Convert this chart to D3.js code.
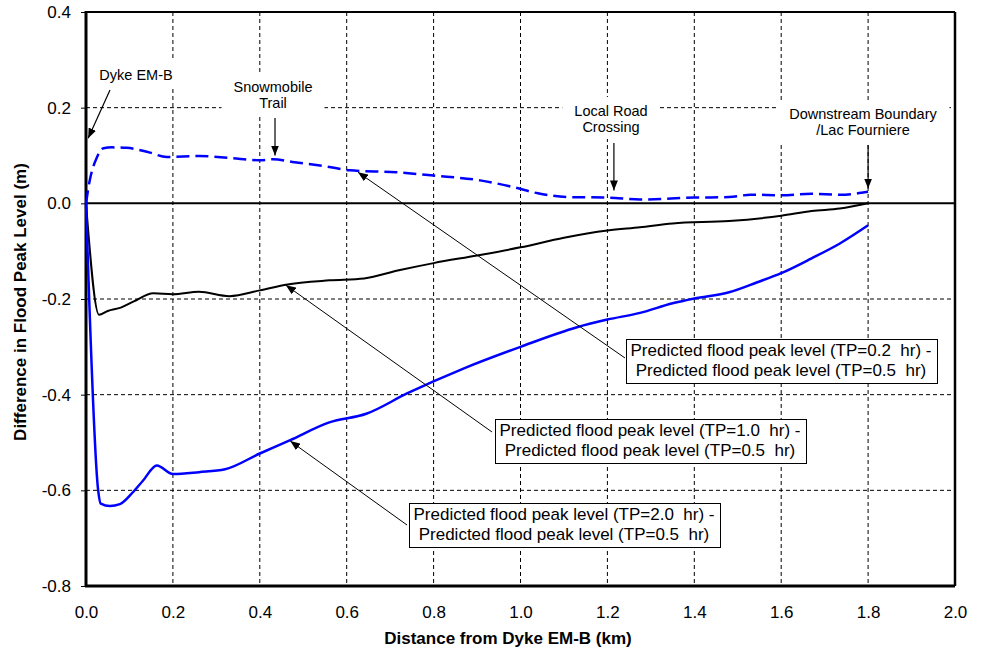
<!DOCTYPE html>
<html>
<head>
<meta charset="utf-8">
<script src="https://cdn.jsdelivr.net/npm/d3@7"></script>
<style>
  body { margin: 0; background: #fff; }
  text { font-family: "Liberation Sans", Arial, sans-serif; }
</style>
</head>
<body>
<svg id="chart"></svg>
<script>
var width = 984;
var height = 650;

// distance from dyke (km) / difference in flood peak level (m)
var tp02X = [0, 0.008, 0.025, 0.04, 0.06, 0.094, 0.14, 0.186, 0.26, 0.33, 0.40, 0.43, 0.48, 0.56, 0.607, 0.715, 0.80, 0.907, 0.983, 1.04, 1.114, 1.20, 1.275, 1.40, 1.48, 1.53, 1.60, 1.67, 1.735, 1.80];
var tp02Y = [0, 0.045, 0.096, 0.115, 0.117, 0.116, 0.108, 0.097, 0.099, 0.095, 0.090, 0.092, 0.086, 0.076, 0.069, 0.065, 0.058, 0.048, 0.034, 0.021, 0.013, 0.012, 0.008, 0.012, 0.013, 0.018, 0.017, 0.020, 0.018, 0.024];

var tp10X = [0, 0.03, 0.05, 0.08, 0.11, 0.155, 0.20, 0.26, 0.33, 0.40, 0.46, 0.56, 0.64, 0.72, 0.80, 0.90, 1.00, 1.10, 1.20, 1.275, 1.35, 1.48, 1.60, 1.67, 1.735, 1.80];
var tp10Y = [0, -0.233, -0.225, -0.218, -0.205, -0.188, -0.19, -0.185, -0.194, -0.182, -0.17, -0.161, -0.157, -0.14, -0.125, -0.109, -0.092, -0.072, -0.057, -0.050, -0.042, -0.037, -0.026, -0.016, -0.011, 0.0];

var tp20X = [0, 0.028, 0.034, 0.055, 0.078, 0.108, 0.131, 0.163, 0.20, 0.26, 0.32, 0.40, 0.47, 0.56, 0.645, 0.74, 0.87, 1.00, 1.13, 1.20, 1.275, 1.35, 1.40, 1.48, 1.545, 1.60, 1.67, 1.735, 1.80];
var tp20Y = [0, -0.60, -0.628, -0.633, -0.629, -0.604, -0.58, -0.548, -0.566, -0.562, -0.556, -0.523, -0.495, -0.458, -0.44, -0.397, -0.345, -0.30, -0.259, -0.243, -0.229, -0.209, -0.199, -0.186, -0.165, -0.146, -0.115, -0.084, -0.046];

var xTicks = [0, 0.2, 0.4, 0.6, 0.8, 1.0, 1.2, 1.4, 1.6, 1.8, 2.0];
var yTicks = [-0.8, -0.6, -0.4, -0.2, 0, 0.2, 0.4];

var xTitle = "Distance from Dyke EM-B (km)";
var yTitle = "Difference in Flood Peak Level (m)";

// location labels: text lines, arrow tip (km, m)
var siteLabels = [
  { lines: ["Dyke EM-B"], tip: [0.005, 0.136] },
  { lines: ["Snowmobile", "Trail"], tip: [0.435, 0.100] },
  { lines: ["Local Road", "Crossing"], tip: [1.215, 0.027] },
  { lines: ["Downstream Boundary", "/Lac Fourniere"], tip: [1.80, 0.031] }
];

// series callouts: text lines, arrow tip (km, m)
var seriesLabels = [
  { lines: ["Predicted flood peak level (TP=0.2  hr) -", "Predicted flood peak level (TP=0.5  hr)"], tip: [0.626, 0.065] },
  { lines: ["Predicted flood peak level (TP=1.0  hr) -", "Predicted flood peak level (TP=0.5  hr)"], tip: [0.46, -0.171] },
  { lines: ["Predicted flood peak level (TP=2.0  hr) -", "Predicted flood peak level (TP=0.5  hr)"], tip: [0.47, -0.497] }
];

var margin = { left: 86, top: 12, right: 29, bottom: 64 };

var svg = d3.select("#chart").attr("width", width).attr("height", height);

var x = d3.scaleLinear().domain([0, 2]).range([margin.left, width - margin.right]);
var y = d3.scaleLinear().domain([-0.8, 0.4]).range([height - margin.bottom, margin.top]);

svg.append("defs")
  .append("marker")
  .attr("id", "head")
  .attr("viewBox", "0 0 10 8")
  .attr("refX", 10)
  .attr("refY", 4)
  .attr("markerWidth", 10)
  .attr("markerHeight", 8)
  .attr("markerUnits", "userSpaceOnUse")
  .attr("orient", "auto")
  .append("path")
  .attr("d", "M0,0L10,4L0,8Z")
  .attr("fill", "#000");

// dashed grid
var grid = svg.append("g");
grid.selectAll(".vgrid")
  .data(xTicks.slice(1, -1))
  .enter()
  .append("line")
  .attr("x1", function (d) { return x(d); })
  .attr("x2", function (d) { return x(d); })
  .attr("y1", y(0.4))
  .attr("y2", y(-0.8))
  .attr("stroke", "#000")
  .attr("stroke-width", 1)
  .attr("stroke-dasharray", "4,3");

grid.selectAll(".hgrid")
  .data(yTicks.filter(function (d) { return d !== 0 && d !== -0.8 && d !== 0.4; }))
  .enter()
  .append("line")
  .attr("x1", x(0))
  .attr("x2", x(2))
  .attr("y1", function (d) { return y(d); })
  .attr("y2", function (d) { return y(d); })
  .attr("stroke", "#000")
  .attr("stroke-width", 1)
  .attr("stroke-dasharray", "4,3");

// axes
var yAxis = d3.axisLeft(y)
  .tickValues(yTicks)
  .tickSize(5)
  .tickPadding(10)
  .tickFormat(function (d) { return d.toFixed(1); });

var xAxis = d3.axisBottom(x)
  .tickValues(xTicks)
  .tickSize(0)
  .tickPadding(20)
  .tickFormat(function (d) { return d.toFixed(1); });

var gy = svg.append("g").attr("transform", "translate(" + margin.left + ",0)").call(yAxis);
var gx = svg.append("g").attr("transform", "translate(0," + y(-0.8) + ")").call(xAxis);
[gx, gy].forEach(function (g) {
  g.select(".domain").remove();
  g.selectAll("text").attr("font-size", 17).attr("fill", "#000").style("font-family", "'Liberation Sans', Arial, sans-serif");
  g.selectAll("line").attr("stroke", "#000");
});

// site labels with white backgrounds
var siteLayout = [
  { cx: 136, base: 80, from: [110, 90] },
  { cx: 273, base: 92, from: [x(0.435), 118] },
  { cx: 611, base: 116, from: [x(1.215), 143] },
  { cx: 863, base: 119, from: [x(1.80), 145] }
];

var siteG = svg.append("g");
siteLabels.forEach(function (s, i) {
  var L = siteLayout[i];
  var g = siteG.append("g");
  var rect = g.append("rect").attr("fill", "#fff");
  var t = g.append("text")
    .attr("text-anchor", "middle")
    .attr("font-size", 14.5)
    .attr("fill", "#000");
  s.lines.forEach(function (line, j) {
    t.append("tspan").attr("x", L.cx).attr("y", L.base + j * 16).text(line);
  });
  var bb = t.node().getBBox();
  rect.attr("x", bb.x - 12).attr("y", bb.y - 6).attr("width", bb.width + 24).attr("height", bb.height + 10);
});

// plot frame and zero line
svg.append("line")
  .attr("x1", x(0)).attr("x2", x(2))
  .attr("y1", y(0)).attr("y2", y(0))
  .attr("stroke", "#000").attr("stroke-width", 2);

svg.append("line")
  .attr("x1", x(0)).attr("x2", x(2))
  .attr("y1", y(0.4)).attr("y2", y(0.4))
  .attr("stroke", "#000").attr("stroke-width", 2);
svg.append("line")
  .attr("x1", x(2)).attr("x2", x(2))
  .attr("y1", y(0.4)).attr("y2", y(-0.8))
  .attr("stroke", "#000").attr("stroke-width", 2.5);
svg.append("line")
  .attr("x1", x(0) - 1).attr("x2", x(2))
  .attr("y1", y(-0.8)).attr("y2", y(-0.8))
  .attr("stroke", "#000").attr("stroke-width", 3);
svg.append("line")
  .attr("x1", x(0)).attr("x2", x(0))
  .attr("y1", y(0.4) - 1).attr("y2", y(-0.8) + 1)
  .attr("stroke", "#000").attr("stroke-width", 3);

// series
var line = d3.line()
  .x(function (d) { return x(d[0]); })
  .y(function (d) { return y(d[1]); })
  .curve(d3.curveMonotoneX);

function pairs(xs, ys) {
  return xs.map(function (v, i) { return [v, ys[i]]; });
}

svg.append("path")
  .datum(pairs(tp10X, tp10Y))
  .attr("d", line)
  .attr("fill", "none")
  .attr("stroke", "#000")
  .attr("stroke-width", 2);

svg.append("path")
  .datum(pairs(tp20X, tp20Y))
  .attr("d", line)
  .attr("fill", "none")
  .attr("stroke", "#0000ff")
  .attr("stroke-width", 2.5);

svg.append("path")
  .datum(pairs(tp02X, tp02Y))
  .attr("d", line)
  .attr("fill", "none")
  .attr("stroke", "#0000ff")
  .attr("stroke-width", 2.5)
  .attr("stroke-dasharray", "13,6");

// site arrows
siteLabels.forEach(function (s, i) {
  var L = siteLayout[i];
  svg.append("line")
    .attr("x1", L.from[0]).attr("y1", L.from[1])
    .attr("x2", x(s.tip[0])).attr("y2", y(s.tip[1]))
    .attr("stroke", "#000")
    .attr("stroke-width", 1.2)
    .attr("marker-end", "url(#head)");
});

// series callout boxes
var boxLayout = [
  { cx: 781, base: 356, from: [625, 358] },
  { cx: 650, base: 436, from: [492, 432] },
  { cx: 564, base: 520, from: [407, 525] }
];

seriesLabels.forEach(function (s, i) {
  var L = boxLayout[i];
  svg.append("line")
    .attr("x1", L.from[0]).attr("y1", L.from[1])
    .attr("x2", x(s.tip[0])).attr("y2", y(s.tip[1]))
    .attr("stroke", "#000")
    .attr("stroke-width", 1)
    .attr("marker-end", "url(#head)");
});

seriesLabels.forEach(function (s, i) {
  var L = boxLayout[i];
  var g = svg.append("g");
  var rect = g.append("rect").attr("fill", "#fff").attr("stroke", "#000").attr("stroke-width", 1);
  var t = g.append("text")
    .attr("text-anchor", "middle")
    .attr("font-size", 17)
    .attr("fill", "#000")
    .style("white-space", "pre");
  s.lines.forEach(function (ln, j) {
    t.append("tspan").attr("x", L.cx).attr("y", L.base + j * 20).text(ln);
  });
  var bb = t.node().getBBox();
  rect.attr("x", Math.round(bb.x - 5) + 0.5)
    .attr("y", Math.round(bb.y - 2) + 0.5)
    .attr("width", Math.round(bb.width + 10))
    .attr("height", Math.round(bb.height + 5));
});

// axis titles
svg.append("text")
  .attr("x", 508)
  .attr("y", 644)
  .attr("text-anchor", "middle")
  .attr("font-size", 17)
  .attr("font-weight", "bold")
  .text(xTitle);

svg.append("text")
  .attr("transform", "translate(26,302) rotate(-90)")
  .attr("text-anchor", "middle")
  .attr("font-size", 17)
  .attr("font-weight", "bold")
  .text(yTitle);
</script>
</body>
</html>
